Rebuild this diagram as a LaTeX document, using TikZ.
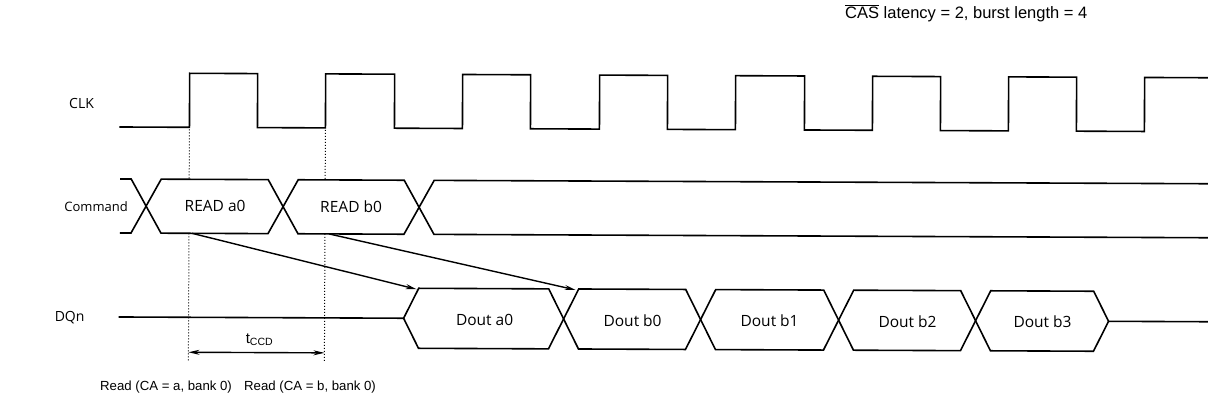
\documentclass[tikz,border=0pt]{standalone}
\usepackage{fontspec}
\setmainfont{Liberation Sans}
\newfontfamily\labfont{Open Sans}
\usetikzlibrary{arrows.meta}
\tikzset{
  wave/.style={line width=1.6pt, line join=miter},
  sig/.style={font=\labfont\fontsize{13}{15}\selectfont, inner sep=0pt},
  boxtxt/.style={font=\labfont\fontsize{15.5}{17}\selectfont, inner sep=0pt},
  ann/.style={font=\fontsize{13.2}{15}\selectfont, inner sep=0pt},
  dots/.style={dotted, line width=1pt},
  causal/.style={line width=1.4pt, -{Stealth[length=11pt,width=5pt]}},
  span/.style={line width=1.4pt, {Stealth[length=11pt,width=5pt]}-{Stealth[length=11pt,width=5pt]}}
}
\begin{document}
\begin{tikzpicture}[x=1pt,y=-1pt]
\useasboundingbox (0,0) rectangle (1208,403);
\fill[white] (0,0) rectangle (1208,403);
\node[ann, anchor=west, font=\fontsize{16.5}{18}\selectfont] (cond) at (845,13) {$\overline{\mbox{CAS}}$ latency = 2, burst length = 4};
\begin{scope}[rotate around={-0.25:(120,0)}]
% labels
\node[sig, font=\labfont\fontsize{14}{16}\selectfont] (lclk) at (82,104) {CLK};
\node[sig] (lcmd) at (97,207) {Command};
\node[sig, font=\labfont\fontsize{14}{16}\selectfont] (ldq) at (71,318) {DQn};
% clock
\draw[wave] (120,127) -- (190,127) -- (190,73) -- (258,73) -- (258,127)
  -- (326,127) -- (326,73) -- (395,73) -- (395,127)
  -- (463,127) -- (463,73) -- (531,73) -- (531,127)
  -- (600,127) -- (600,73) -- (668,73) -- (668,127)
  -- (736,127) -- (736,73) -- (805,73) -- (805,127)
  -- (873,127) -- (873,73) -- (941,73) -- (941,127)
  -- (1009,127) -- (1009,73) -- (1077,73) -- (1077,127)
  -- (1145,127) -- (1145,73) -- (1215,73);
% command bus
\draw[wave] (121,179) -- (132,179) -- (162,233) -- (269,233) -- (299,179)
  -- (405,179) -- (435,233) -- (1215,233);
\draw[wave] (121,233) -- (132,233) -- (162,179) -- (269,179) -- (299,233)
  -- (405,233) -- (435,179) -- (1215,179);
\node[boxtxt] (rda) at (216,206) {READ a0};
\node[boxtxt] (rdb) at (352,206) {READ b0};
% data bus
\draw[wave] (120,317) -- (405,317) -- (420,287) -- (550,287) -- (580,347)
  -- (687,347) -- (717,287) -- (825,287) -- (855,347) -- (962,347)
  -- (992,287) -- (1095,287) -- (1110,317) -- (1215,317);
\draw[wave] (405,317) -- (420,347) -- (550,347) -- (580,287) -- (687,287)
  -- (717,347) -- (825,347) -- (855,287) -- (962,287) -- (992,347)
  -- (1095,347) -- (1110,317);
\node[boxtxt] (da0) at (486,318) {Dout a0};
\node[boxtxt] (db0) at (634,318) {Dout b0};
\node[boxtxt] (db1) at (771,318) {Dout b1};
\node[boxtxt] (db2) at (909,318) {Dout b2};
\node[boxtxt] (db3) at (1044,318) {Dout b3};
% reference points
\coordinate (ca) at (193,233);
\coordinate (cb) at (330,233);
\coordinate (ta) at (418,288);
\coordinate (tb) at (577,288);
\coordinate (ka1) at (190,129);
\coordinate (ka2) at (190,179);
\coordinate (ka3) at (190,233);
\coordinate (ka4) at (190,361);
\coordinate (kb1) at (326,129);
\coordinate (kb2) at (326,179);
\coordinate (kb3) at (326,233);
\coordinate (kb4) at (326,361);
\coordinate (sa) at (190,352);
\coordinate (sb) at (326,352);
\draw[dots] (ka1) -- (ka2);
\draw[dots] (ka3) -- (ka4);
\draw[dots] (kb1) -- (kb2);
\draw[dots] (kb3) -- (kb4);
\draw[causal] (ca) -- (ta);
\draw[causal] (cb) -- (tb);
\draw[span] (sa) -- (sb);
\node[ann, font=\fontsize{15}{17}\selectfont] (tccd) at (261,339) {t\textsubscript{CCD}};
\end{scope}
\node[ann, anchor=west] (rla) at (100,387) {Read (CA = a, bank 0)};
\node[ann, anchor=west] (rlb) at (244,387) {Read (CA = b, bank 0)};
\end{tikzpicture}
\end{document}
